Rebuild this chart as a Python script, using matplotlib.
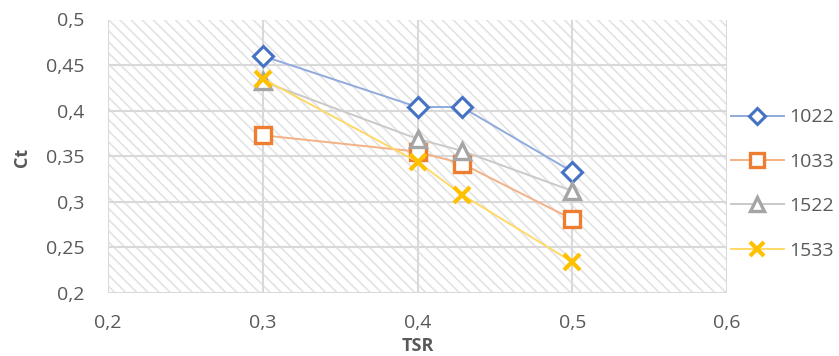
import matplotlib
matplotlib.use("Agg")
import matplotlib.pyplot as plt
from matplotlib.patches import Rectangle
from matplotlib.ticker import FuncFormatter

plt.rcParams['font.family'] = ['Open Sans', 'DejaVu Sans']

tsr = [0.3, 0.4, 0.4286, 0.5]
ct_1022 = [0.460, 0.404, 0.404, 0.333]
ct_1033 = [0.373, 0.355, 0.342, 0.281]
ct_1522 = [0.432, 0.369, 0.356, 0.312]
ct_1533 = [0.435, 0.344, 0.308, 0.234]

series_names = ["1022", "1033", "1522", "1533"]
x_ticks = [0.2, 0.3, 0.4, 0.5, 0.6]
y_ticks = [0.2, 0.25, 0.3, 0.35, 0.4, 0.45, 0.5]

styles = [
    dict(marker='D', ms=10, mec='#4472C4', color='#8FAADC', mew=2.2),
    dict(marker='s', ms=12, mec='#ED7D31', color='#F4B183', mew=2.4),
    dict(marker='^', ms=12, mec='#A5A5A5', color='#C9C9C9', mew=2.4),
    dict(marker='x', ms=12, mec='#FFC000', color='#FFD966', mew=3.0),
]

W, H = 839, 356
fig = plt.figure(figsize=(W / 100, H / 100), dpi=100)
ax = fig.add_axes([108 / W, 1 - 293 / H, (727 - 108) / W, (293 - 19.5) / H])

# light diagonal hatching over the plot area
plt.rcParams['hatch.linewidth'] = 1.2
bg = Rectangle((0, 0), 1, 1, transform=ax.transAxes, facecolor='white',
               edgecolor='#E3E3E3', hatch='\\\\\\', linewidth=0, zorder=0)
ax.add_patch(bg)

for name, ys, st in zip(series_names, [ct_1022, ct_1033, ct_1522, ct_1533], styles):
    ax.plot(tsr, ys, label=name, lw=1.4, mfc='white', zorder=3, **st)

ax.set_xlim(0.2, 0.6)
ax.set_ylim(0.2, 0.5)
ax.set_xticks(x_ticks)
ax.set_yticks(y_ticks)
fmt = FuncFormatter(lambda v, p: ('%g' % round(v, 3)).replace('.', ','))
ax.xaxis.set_major_formatter(fmt)
ax.yaxis.set_major_formatter(fmt)
ax.grid(True, color='#D9D9D9', lw=1.5, zorder=1)
for s in ax.spines.values():
    s.set_visible(False)
ax.tick_params(length=0, labelsize=14, colors='#595959')
ax.tick_params(axis='x', pad=15)
ax.tick_params(axis='y', pad=17)

fig.text(417.5 / W, 1 - 346 / H, 'TSR', fontsize=13, fontweight='bold',
         color='#595959', ha='center', va='center')
fig.text(22 / W, 1 - 157 / H, 'Ct', fontsize=13, fontweight='bold',
         color='#595959', ha='center', va='center', rotation=90)

leg = fig.legend(loc='center left', bbox_to_anchor=(731 / W, 1 - 184 / H),
                 frameon=False, fontsize=14, labelcolor='#595959',
                 handlelength=2.7, labelspacing=1.36, borderpad=0,
                 borderaxespad=0, handletextpad=0.3, markerscale=0.85)

fig.savefig('out.png', dpi=100)
